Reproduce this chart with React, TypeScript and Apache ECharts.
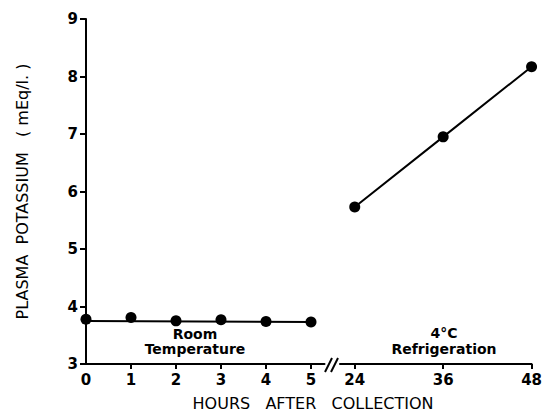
import React, { useEffect, useRef } from "react";
import * as echarts from "echarts";

const roomHours = [0, 1, 2, 3, 4, 5];
const roomValues = [3.78, 3.81, 3.75, 3.77, 3.74, 3.73];
const roomFitHours = [0, 5];
const roomFitValues = [3.75, 3.73];
const fridgeHours = [24, 36, 48];
const fridgeValues = [5.73, 6.95, 8.17];
const leftTicks = [0, 1, 2, 3, 4, 5];
const rightTicks = [24, 36, 48];

const FONT = "DejaVu Sans";

export default function App() {
  const ref = useRef<HTMLDivElement>(null);
  useEffect(() => {
    if (!ref.current) return;
    const chart = echarts.init(ref.current, null, { renderer: "svg" });
    const labelStyle = { color: "#000", fontSize: 15, fontWeight: "bold" as const, fontFamily: FONT };
    const axisLineStyle = { color: "#000", width: 2 };
    chart.setOption({
      animation: false,
      backgroundColor: "#fff",
      grid: [
        { left: 86, top: 19, width: 238.5, bottom: 48 },
        { left: 340, top: 19, width: 193, bottom: 48 },
      ],
      xAxis: [
        {
          type: "value", gridIndex: 0, min: 0, max: 5.3,
          axisLine: { show: true, lineStyle: axisLineStyle },
          axisTick: { show: true, length: 5, lineStyle: { color: "#000", width: 2 }, customValues: leftTicks.slice(1) },
          axisLabel: { ...labelStyle, margin: 8, customValues: leftTicks },
          splitLine: { show: false },
        },
        {
          type: "value", gridIndex: 1, min: 22, max: 48,
          axisLine: { show: true, lineStyle: axisLineStyle },
          axisTick: { show: true, length: 5, lineStyle: { color: "#000", width: 2 }, customValues: rightTicks },
          axisLabel: { ...labelStyle, margin: 8, customValues: rightTicks },
          splitLine: { show: false },
        },
      ],
      yAxis: [
        {
          type: "value", gridIndex: 0, min: 3, max: 9, interval: 1,
          axisLine: { show: true, lineStyle: axisLineStyle },
          axisTick: { show: true, length: 6, lineStyle: { color: "#000", width: 2 } },
          axisLabel: { ...labelStyle, margin: 8 },
          splitLine: { show: false },
          name: "PLASMA  POTASSIUM   ( mEq/l. )",
          nameLocation: "middle",
          nameRotate: 90,
          nameGap: 56,
          nameTextStyle: { color: "#000", fontSize: 16, fontFamily: FONT },
        },
        {
          type: "value", gridIndex: 1, min: 3, max: 9, interval: 1, show: false,
          splitLine: { show: false },
        },
      ],
      series: [
        {
          type: "line", xAxisIndex: 0, yAxisIndex: 0,
          data: roomFitHours.map((h, i) => [h, roomFitValues[i]]),
          showSymbol: false, symbol: "none",
          lineStyle: { color: "#000", width: 2 },
        },
        {
          type: "scatter", xAxisIndex: 0, yAxisIndex: 0,
          data: roomHours.map((h, i) => [h, roomValues[i]]),
          symbol: "circle", symbolSize: 11,
          itemStyle: { color: "#000", opacity: 1 },
        },
        {
          type: "line", xAxisIndex: 1, yAxisIndex: 1,
          data: fridgeHours.map((h, i) => [h, fridgeValues[i]]),
          symbol: "circle", symbolSize: 11, showSymbol: true,
          itemStyle: { color: "#000", opacity: 1 },
          lineStyle: { color: "#000", width: 2 },
        },
      ],
      graphic: [
        { type: "line", shape: { x1: 325, y1: 372, x2: 332, y2: 358 }, style: { stroke: "#000", lineWidth: 2 } },
        { type: "line", shape: { x1: 331, y1: 372, x2: 338, y2: 358 }, style: { stroke: "#000", lineWidth: 2 } },
        {
          type: "text", x: 195, y: 341,
          style: { text: "Room\nTemperature", textAlign: "center", textVerticalAlign: "middle", fill: "#000", fontSize: 14, fontWeight: "bold", fontFamily: FONT, lineHeight: 15 },
        },
        {
          type: "text", x: 444, y: 341,
          style: { text: "4°C\nRefrigeration", textAlign: "center", textVerticalAlign: "middle", fill: "#000", fontSize: 14, fontWeight: "bold", fontFamily: FONT, lineHeight: 16 },
        },
        {
          type: "text", x: 313, y: 403,
          style: { text: "HOURS   AFTER   COLLECTION", textAlign: "center", textVerticalAlign: "middle", fill: "#000", fontSize: 16, fontFamily: FONT },
        },
      ],
    });
    return () => chart.dispose();
  }, []);
  return <div ref={ref} style={{ position: "absolute", left: 0, top: 0, width: 545, height: 412 }} />;
}
